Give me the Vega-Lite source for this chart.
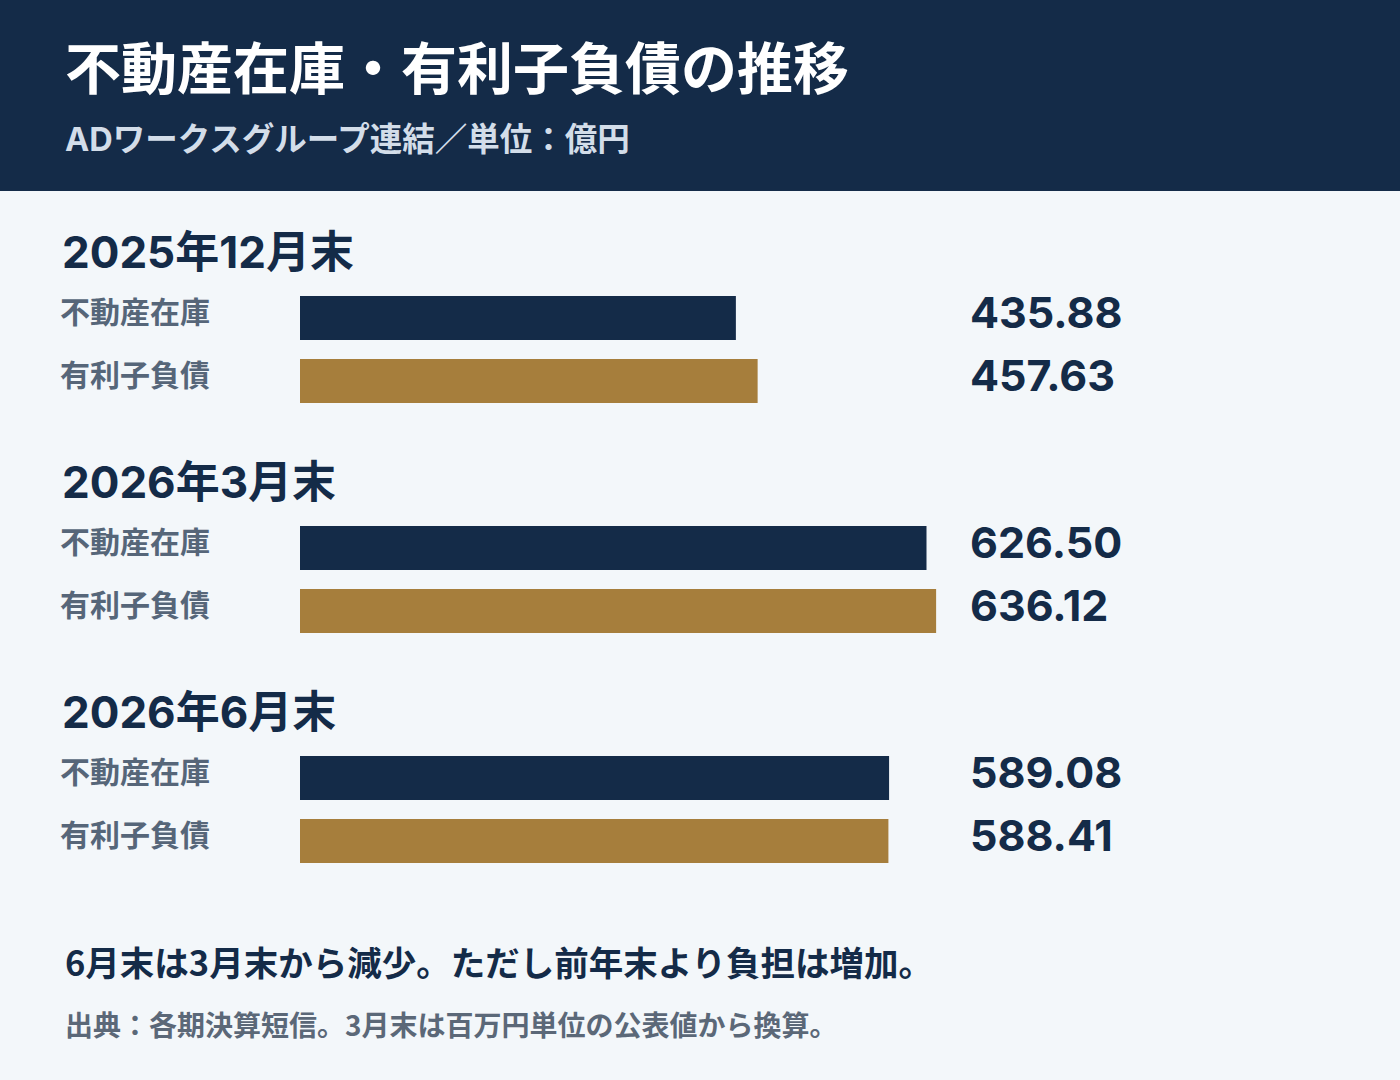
{
  "$schema": "https://vega.github.io/schema/vega-lite/v6.json",
  "width": 1400,
  "height": 1080,
  "autosize": {"type": "fit", "contains": "padding"},
  "padding": {"top": 44, "left": 0, "right": 0, "bottom": 0},
  "background": "#142b48",
  "title": {
    "text": "不動産在庫・有利子負債の推移",
    "subtitle": "ADワークスグループ連結／単位：億円",
    "anchor": "start",
    "frame": "group",
    "dx": 65,
    "font": "Noto Sans CJK JP",
    "fontSize": 56,
    "fontWeight": "bold",
    "color": "#ffffff",
    "subtitleFont": "Inter, Noto Sans CJK JP",
    "subtitleFontSize": 32.5,
    "subtitleFontWeight": "bold",
    "subtitleColor": "#d3dde9",
    "subtitlePadding": 24,
    "offset": 32.5
  },
  "datasets": {
    "balances": [
      {"period": "2025年12月末", "metric": "不動産在庫", "value": 435.88},
      {"period": "2025年12月末", "metric": "有利子負債", "value": 457.63},
      {"period": "2026年3月末", "metric": "不動産在庫", "value": 626.50},
      {"period": "2026年3月末", "metric": "有利子負債", "value": 636.12},
      {"period": "2026年6月末", "metric": "不動産在庫", "value": 589.08},
      {"period": "2026年6月末", "metric": "有利子負債", "value": 588.41}
    ],
    "notes": [
      {"period": "2025年12月末", "line": "見出し", "kind": "heading", "text": "2025年12月末"},
      {"period": "2026年3月末", "line": "見出し", "kind": "heading", "text": "2026年3月末"},
      {"period": "2026年6月末", "line": "見出し", "kind": "heading", "text": "2026年6月末"},
      {"period": "注記", "line": "見出し", "kind": "note", "text": "6月末は3月末から減少。ただし前年末より負担は増加。"},
      {"period": "注記", "line": "不動産在庫", "kind": "source", "text": "出典：各期決算短信。3月末は百万円単位の公表値から換算。"}
    ]
  },
  "encoding": {
    "y": {
      "field": "period",
      "type": "nominal",
      "axis": null,
      "scale": {
        "domain": ["2025年12月末", "2026年3月末", "2026年6月末", "注記"],
        "range": [32.5, 911.5],
        "paddingInner": 0.1783,
        "paddingOuter": 0
      }
    }
  },
  "layer": [
    {
      "data": {"name": "balances"},
      "mark": {"type": "bar", "cornerRadius": 0},
      "encoding": {
        "x": {
          "field": "value",
          "type": "quantitative",
          "axis": null,
          "scale": {"domain": [-300, 1100], "nice": false, "zero": false}
        },
        "x2": {"datum": 0},
        "yOffset": {
          "field": "metric",
          "type": "nominal",
          "scale": {
            "domain": ["見出し", "不動産在庫", "有利子負債"],
            "paddingInner": 0.3,
            "paddingOuter": 0.15
          }
        },
        "color": {
          "field": "metric",
          "type": "nominal",
          "legend": null,
          "scale": {"domain": ["不動産在庫", "有利子負債"], "range": ["#142b48", "#a67e3c"]}
        }
      }
    },
    {
      "data": {"name": "balances"},
      "mark": {
        "type": "text",
        "align": "left",
        "baseline": "middle",
        "dy": -4,
        "font": "Noto Sans CJK JP",
        "fontSize": 30,
        "fontWeight": "bold",
        "color": "#566679"
      },
      "encoding": {
        "x": {"datum": -240, "type": "quantitative"},
        "yOffset": {"field": "metric", "type": "nominal"},
        "text": {"field": "metric"}
      }
    },
    {
      "data": {"name": "balances"},
      "mark": {
        "type": "text",
        "align": "left",
        "baseline": "middle",
        "dy": -3,
        "font": "Inter",
        "fontSize": 43,
        "fontWeight": "bold",
        "color": "#142b48"
      },
      "encoding": {
        "x": {"datum": 670, "type": "quantitative"},
        "yOffset": {"field": "metric", "type": "nominal"},
        "text": {"field": "value", "format": ".2f"}
      }
    },
    {
      "data": {"name": "notes"},
      "transform": [{"filter": "datum.kind == 'heading'"}],
      "mark": {
        "type": "text",
        "align": "left",
        "baseline": "middle",
        "font": "Inter, Noto Sans CJK JP",
        "fontSize": 44,
        "fontWeight": "bold",
        "color": "#142b48"
      },
      "encoding": {
        "x": {"datum": -238, "type": "quantitative"},
        "yOffset": {"field": "line", "type": "nominal"},
        "text": {"field": "text"}
      }
    },
    {
      "data": {"name": "notes"},
      "transform": [{"filter": "datum.kind == 'note'"}],
      "mark": {
        "type": "text",
        "align": "left",
        "baseline": "top",
        "dy": 4,
        "font": "Noto Sans CJK JP",
        "fontSize": 34.5,
        "fontWeight": "bold",
        "color": "#142b48"
      },
      "encoding": {
        "x": {"datum": -235, "type": "quantitative"},
        "yOffset": {"field": "line", "type": "nominal"},
        "text": {"field": "text"}
      }
    },
    {
      "data": {"name": "notes"},
      "transform": [{"filter": "datum.kind == 'source'"}],
      "mark": {
        "type": "text",
        "align": "left",
        "baseline": "top",
        "dy": 6,
        "font": "Noto Sans CJK JP",
        "fontSize": 28,
        "fontWeight": "bold",
        "color": "#5b6878"
      },
      "encoding": {
        "x": {"datum": -235, "type": "quantitative"},
        "yOffset": {"field": "line", "type": "nominal"},
        "text": {"field": "text"}
      }
    }
  ],
  "config": {
    "view": {"stroke": null, "fill": "#f3f7fa"}
  }
}
